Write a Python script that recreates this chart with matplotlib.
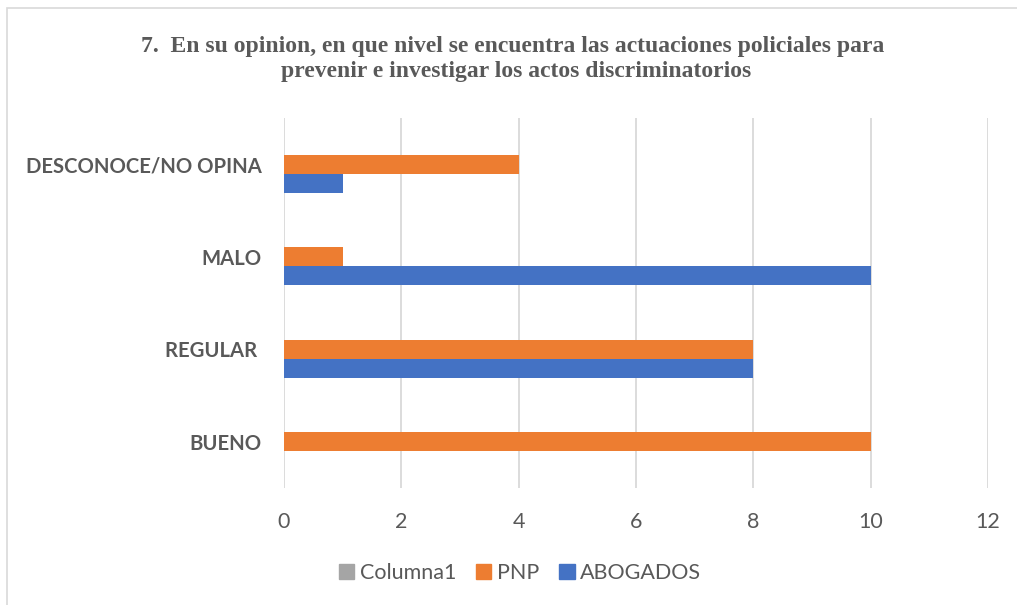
import matplotlib
matplotlib.use('Agg')
import matplotlib.pyplot as plt
from matplotlib.patches import Rectangle, Patch
import numpy as np

# Datos
categorias = ['BUENO', 'REGULAR ', 'MALO', 'DESCONOCE/NO OPINA']
abogados = [0, 8, 10, 1]
pnp = [10, 8, 1, 4]
columna1 = [0, 0, 0, 0]
xticks = [0, 2, 4, 6, 8, 10, 12]

titulo = ('7.  En su opinion, en que nivel se encuentra las actuaciones policiales para \n'
          'prevenir e investigar los actos discriminatorios')

# Colores tipo Excel
azul = '#4472C4'
naranja = '#ED7D31'
gris = '#A5A5A5'
texto = '#595959'
grilla = '#D9D9D9'

W, H = 1017, 605
fig = plt.figure(figsize=(W / 100, H / 100), dpi=100)

# Marco del área del gráfico (abierto a la derecha y abajo)
fig.add_artist(Rectangle((7 / W, -0.1), 1.2, 1 - 8 / H + 0.1, transform=fig.transFigure,
                         fill=False, edgecolor=grilla, linewidth=1.2))

ax = fig.add_axes([284 / W, 1 - 488 / H, (988 - 284) / W, (488 - 118) / H])

y = np.arange(len(categorias))
h = 0.205
ax.barh(y - h, abogados, height=h, color=azul, label='ABOGADOS')
ax.barh(y, pnp, height=h, color=naranja, label='PNP')
ax.barh(y + h, columna1, height=h, color=gris, label='Columna1')

ax.set_ylim(-0.5, len(categorias) - 0.5)
ax.set_xlim(0, 12)
ax.set_xticks(xticks)
ax.set_xticklabels([str(t) for t in xticks], fontsize=15.5, color=texto, family='Lato')
ax.set_yticks(y)
ax.set_yticklabels(categorias, fontsize=14.6, color=texto, family='Lato', fontweight='bold')
ax.tick_params(axis='both', length=0)
ax.tick_params(axis='x', pad=17)
ax.tick_params(axis='y', pad=16)

ax.grid(axis='x', color=grilla, linewidth=1.3)
ax.set_axisbelow(True)
for s in ax.spines.values():
    s.set_visible(False)

fig.text(516 / W, 1 - 59 / H, titulo, ha='center', va='center', fontsize=17,
         fontweight='bold', color=texto, family='Liberation Serif', linespacing=1.3)

handles = [Patch(color=gris, label='Columna1'), Patch(color=naranja, label='PNP'),
           Patch(color=azul, label='ABOGADOS')]
leg = fig.legend(handles=handles, loc='center', bbox_to_anchor=(520 / W, 1 - 573 / H), ncol=3,
                 frameon=False, handlelength=0.7, handleheight=0.7, handletextpad=0.25,
                 columnspacing=0.95, prop={'family': 'Lato', 'size': 15.5})
for t in leg.get_texts():
    t.set_color(texto)

fig.savefig('out.png', dpi=100)
